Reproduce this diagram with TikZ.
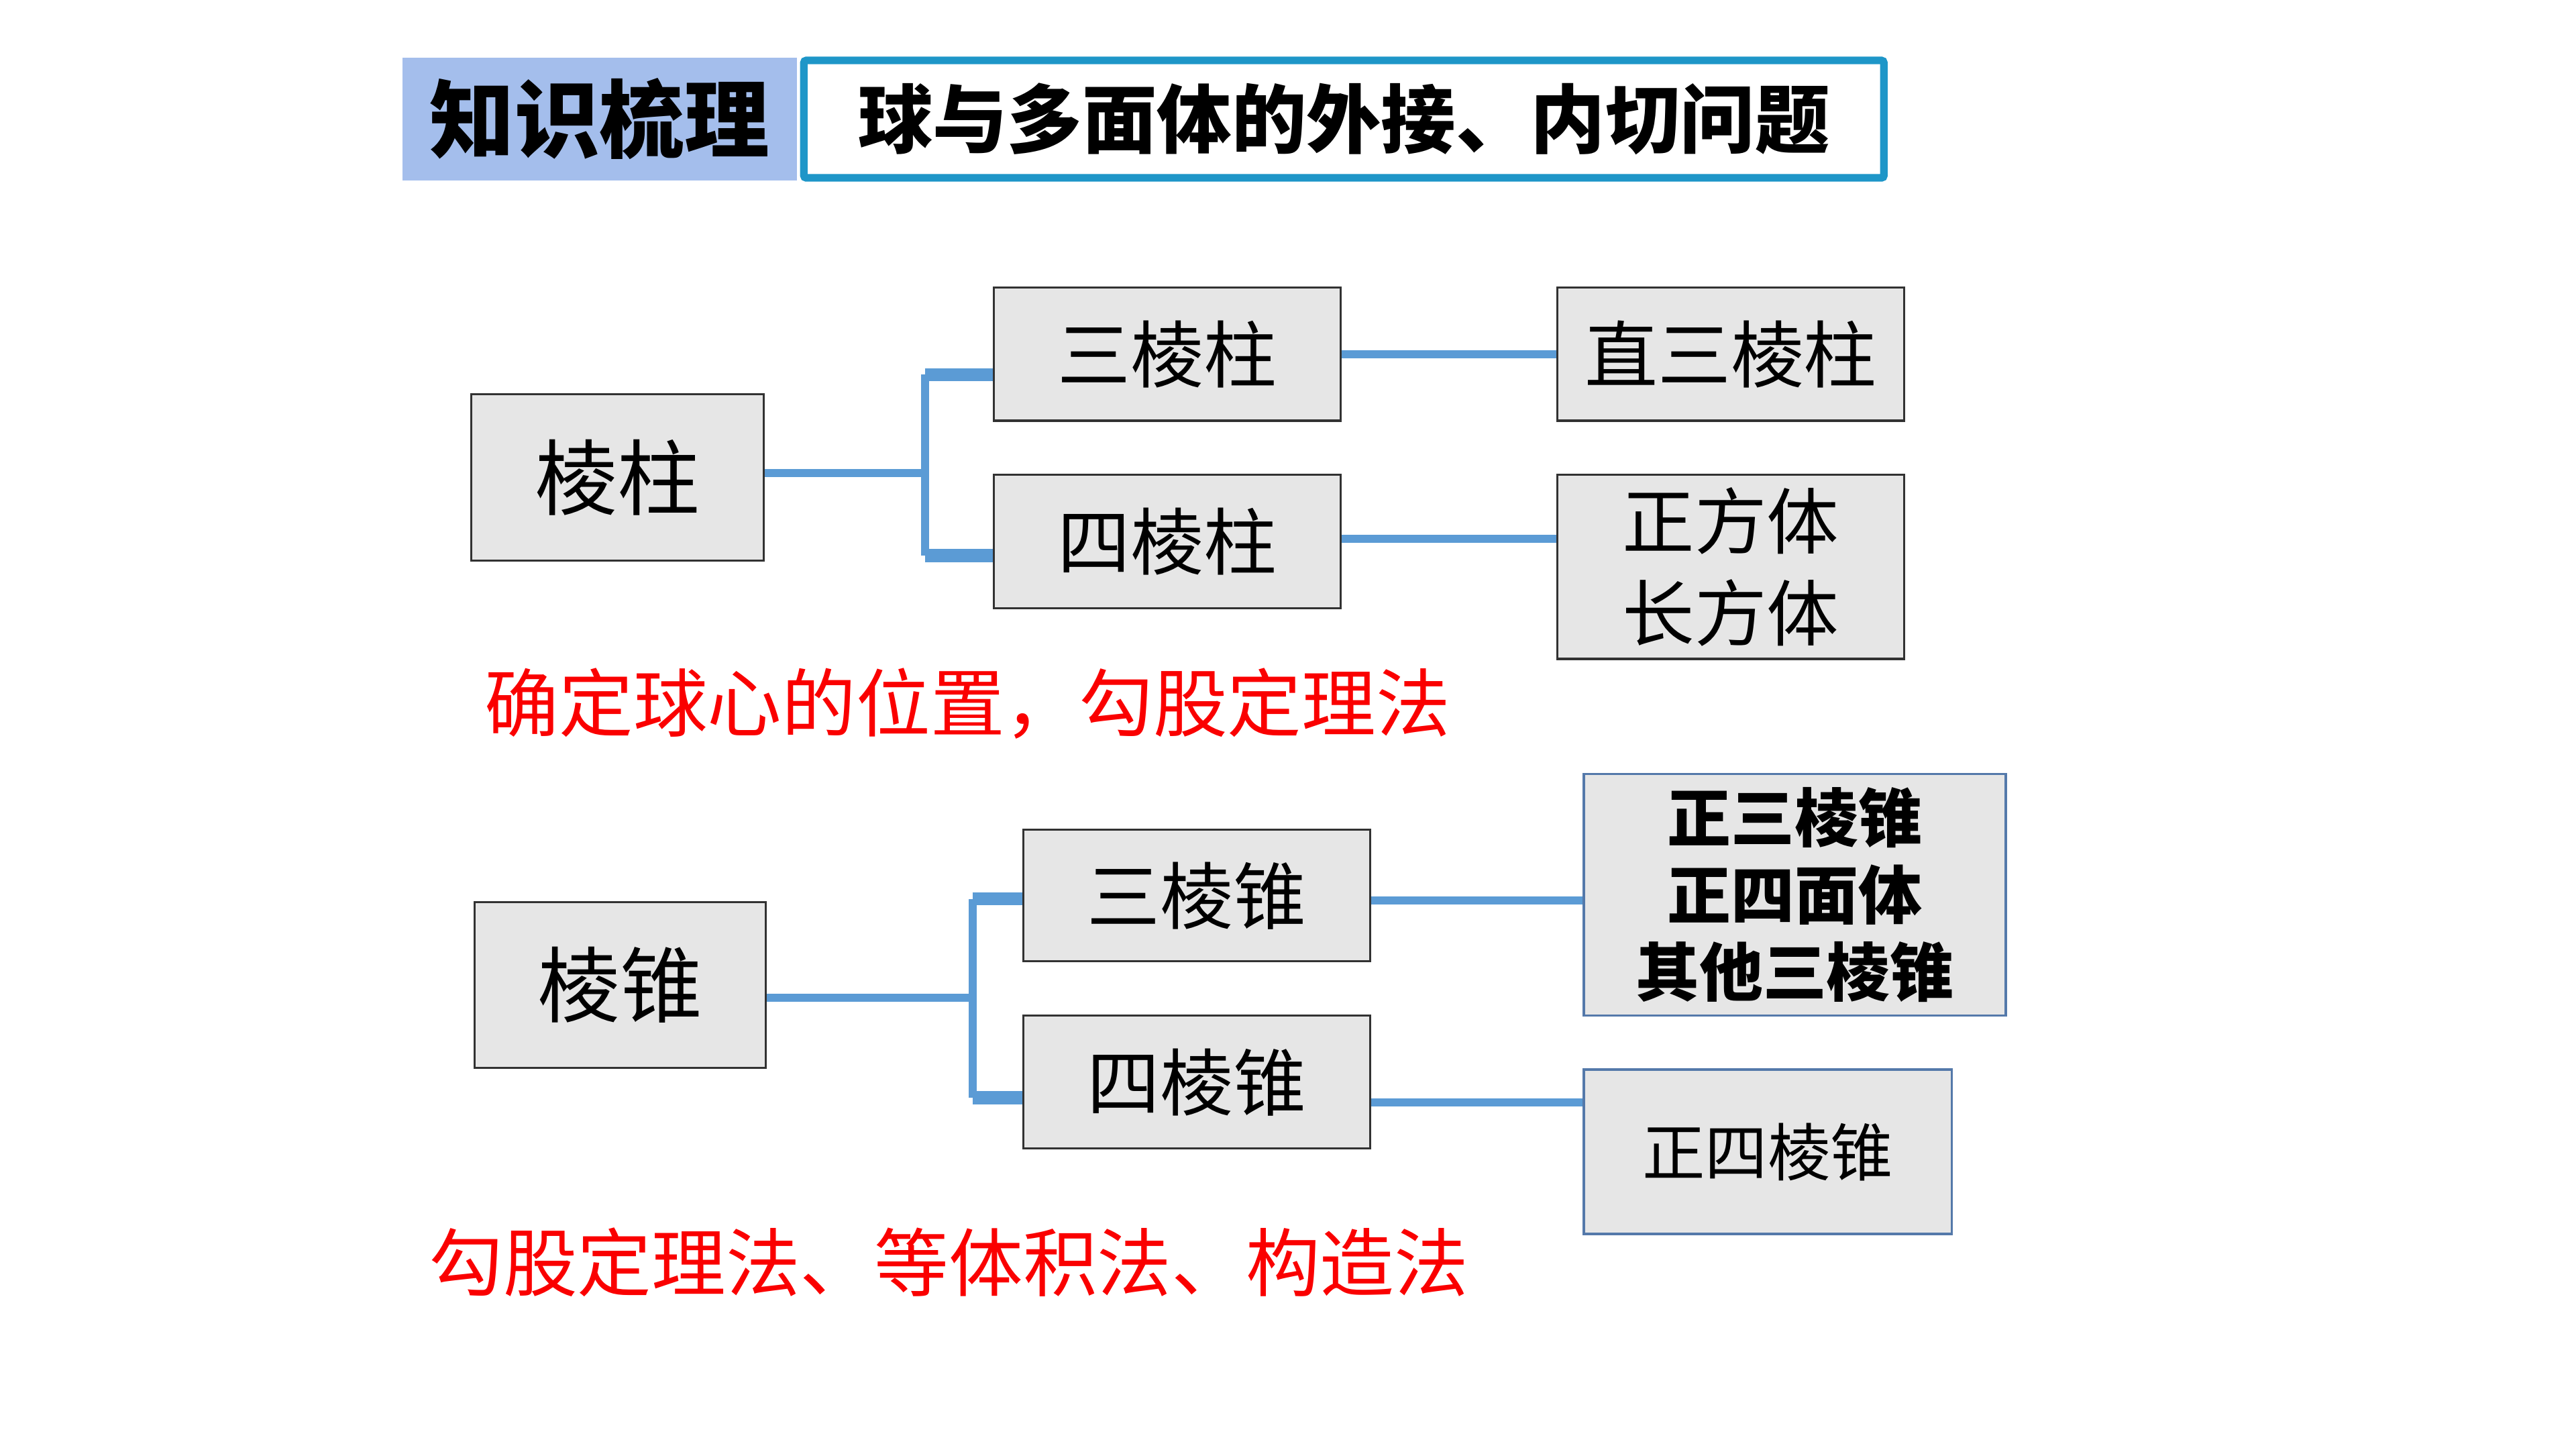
\documentclass[tikz,border=0pt]{standalone}
\usepackage{fontspec}
\setmainfont{Noto Sans CJK SC}
\definecolor{hdrfill}{RGB}{164,190,236}
\definecolor{hdrline}{RGB}{30,150,200}
\definecolor{boxfill}{RGB}{230,230,230}
\definecolor{boxline}{RGB}{50,50,50}
\definecolor{blueline}{RGB}{84,121,170}
\definecolor{linkblue}{RGB}{91,155,213}
\definecolor{notered}{RGB}{250,0,0}
\tikzset{
  box/.style={draw=boxline, fill=boxfill, line width=0.9pt, inner sep=0pt,
    align=center, font=\fontsize{31}{37}\selectfont},
  bluebox/.style={box, draw=blueline, line width=1.1pt},
  link/.style={draw=linkblue, line width=3.4pt},
  stub/.style={draw=linkblue, line width=5.6pt},
  note/.style={text=notered, font=\fontsize{31.5}{38}\selectfont},
}
\begin{document}
\begin{tikzpicture}[x=0.02449cm, y=-0.02449cm]
    \useasboundingbox (0,0) rectangle (1568,882);

    % Title bar
    \node[fill=hdrfill, minimum width=5.878cm, minimum height=1.837cm, inner sep=0pt,
      font=\fontsize{36}{40}\selectfont\bfseries] (tag) at (365,72.5) {知识梳理};
    \node[draw=hdrline, line width=3.2pt, rounded corners=1pt, fill=white,
      minimum width=16.1cm, minimum height=1.75cm, inner sep=0pt,
      font=\fontsize{31.7}{36}\selectfont\bfseries] (title) at (818,72.5) {球与多面体的外接、内切问题};

    % Prisms
    \node[box, minimum width=4.359cm, minimum height=2.473cm, font=\fontsize{35}{40}\selectfont] (lz) at (376,290.5) {棱柱};
    \node[box, minimum width=5.167cm, minimum height=1.984cm] (szz) at (710.5,215.5) {三棱柱};
    \node[box, minimum width=5.167cm, minimum height=1.984cm] (sizz) at (710.5,329.5) {四棱柱};
    \node[box, minimum width=5.167cm, minimum height=1.984cm] (zszz) at (1053.5,215.5) {直三棱柱};
    \node[box, minimum width=5.167cm, minimum height=2.743cm, font=\fontsize{30.6}{39}\selectfont] (zft) at (1053.5,345) {正方体\\长方体};

    % Prism links
    \coordinate (jz) at (563,288);
    \coordinate (jza) at (563,228);
    \coordinate (jzb) at (563,338);
    \draw[link] (lz.east |- jz) -- (jz);
    \draw[link] (jza) -- (jzb);
    \draw[stub] (jza) -- (jza -| szz.west);
    \draw[stub] (jzb) -- (jzb -| sizz.west);
    \draw[link] (szz.east) -- (zszz.west);
    \draw[link] (sizz.east |- 0,328) -- (zft.west |- 0,328);

    \node[note] (notez) at (589,428) {确定球心的位置，勾股定理法};

    % Pyramids
    \node[box, minimum width=4.335cm, minimum height=2.473cm, font=\fontsize{35}{40}\selectfont] (lzh) at (377.5,599.5) {棱锥};
    \node[box, minimum width=5.167cm, minimum height=1.959cm] (szh) at (728.5,545) {三棱锥};
    \node[box, minimum width=5.167cm, minimum height=1.984cm] (sizh) at (728.5,658.5) {四棱锥};
    \node[bluebox, minimum width=6.294cm, minimum height=3.6cm,
      font=\fontsize{27}{32.6}\selectfont\bfseries] (zszh) at (1092.5,544.5) {正三棱锥\\正四面体\\其他三棱锥};
    \node[bluebox, minimum width=5.486cm, minimum height=2.449cm, font=\fontsize{26.6}{32}\selectfont] (zsizh) at (1076,701) {正四棱锥};

    % Pyramid links
    \coordinate (jh) at (592,607);
    \coordinate (jha) at (592,547);
    \coordinate (jhb) at (592,668);
    \draw[link] (lzh.east |- jh) -- (jh);
    \draw[link] (jha) -- (jhb);
    \draw[stub] (jha) -- (jha -| szh.west);
    \draw[stub] (jhb) -- (jhb -| sizh.west);
    \draw[link] (szh.east |- 0,548) -- (zszh.west |- 0,548);
    \draw[link] (sizh.east |- 0,671) -- (zsizh.west |- 0,671);

    \node[note] (noteh) at (577.5,768) {勾股定理法、等体积法、构造法};
\end{tikzpicture}
\end{document}
